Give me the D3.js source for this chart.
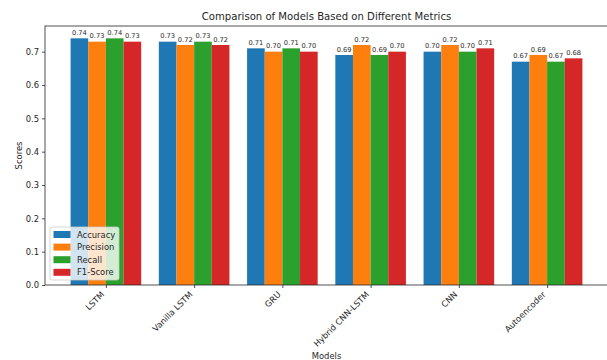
<!DOCTYPE html>
<html><head><meta charset="utf-8">
<script src="https://cdn.jsdelivr.net/npm/d3@7"></script>
<style>body{margin:0;background:#fff}svg{display:block;font-family:"DejaVu Sans",sans-serif}</style>
</head><body><svg id="c" width="607" height="360"></svg>
<script>
const models = ["LSTM","Vanilla LSTM","GRU","Hybrid CNN-LSTM","CNN","Autoencoder"];
const metrics = ["Accuracy","Precision","Recall","F1-Score"];
const accuracy  = [0.74,0.73,0.71,0.69,0.70,0.67];
const precision = [0.73,0.72,0.70,0.72,0.72,0.69];
const recall    = [0.74,0.73,0.71,0.69,0.70,0.67];
const f1score   = [0.73,0.72,0.70,0.70,0.71,0.68];
const yTicks = [0.0,0.1,0.2,0.3,0.4,0.5,0.6,0.7];
const colors = ["#1f77b4","#ff7f0e","#2ca02c","#d62728"];
const series = [accuracy,precision,recall,f1score];

const svg = d3.select("#c");
const L=45, R=608, T=26, B=285;
const barW=0.2;
const x = d3.scaleLinear().domain([-0.69, models.length-1+0.69]).range([L,R]);
const maxV = d3.max(series.flat());
const y = d3.scaleLinear().domain([0, maxV*1.05]).range([B,T]);
const txt = "#262626";

// bars
series.forEach((vals,si)=>{
  const off = (si-1.5)*barW;
  svg.append("g").selectAll("rect").data(vals).join("rect")
    .attr("x",(d,i)=>x(i+off-barW/2))
    .attr("y",d=>y(d))
    .attr("width",x(barW)-x(0))
    .attr("height",d=>y(0)-y(d))
    .attr("fill",colors[si]);
  svg.append("g").selectAll("text").data(vals).join("text")
    .attr("x",(d,i)=>x(i+off))
    .attr("y",d=>y(d)-3.5)
    .attr("text-anchor","middle")
    .attr("font-size",6.7).attr("fill",txt)
    .text(d=>d.toFixed(2));
});

// axes
const ya = svg.append("g").attr("transform",`translate(${L},0)`)
  .call(d3.axisLeft(y).tickValues(yTicks).tickFormat(d3.format(".1f")).tickSize(3).tickPadding(3));
const xa = svg.append("g").attr("transform",`translate(0,${B})`)
  .call(d3.axisBottom(x).tickValues(d3.range(models.length)).tickFormat(i=>models[i]).tickSize(3).tickPadding(2));
[ya,xa].forEach(a=>{a.select(".domain").remove();a.selectAll("line").attr("stroke",txt).attr("stroke-width",0.8);
  a.selectAll("text").attr("font-size",8.4).attr("fill",txt).attr("font-family","DejaVu Sans");});
xa.selectAll("text").attr("text-anchor","end").attr("dy",0)
  .attr("transform","translate(-1.5,10) rotate(-45)").attr("y",0);

svg.append("rect").attr("x",L).attr("y",T).attr("width",R-L).attr("height",B-T)
  .attr("fill","none").attr("stroke",txt).attr("stroke-width",0.8);

// titles
svg.append("text").attr("x",(L+R)/2).attr("y",20).attr("text-anchor","middle")
  .attr("font-size",10.1).attr("fill",txt).text("Comparison of Models Based on Different Metrics");
svg.append("text").attr("x",(L+R)/2).attr("y",359).attr("text-anchor","middle")
  .attr("font-size",8.4).attr("fill",txt).text("Models");
svg.append("text").attr("transform",`translate(22,${(T+B)/2}) rotate(-90)`).attr("text-anchor","middle")
  .attr("font-size",8.4).attr("fill",txt).text("Scores");

// legend
const lg = svg.append("g").attr("transform","translate(50,227)");
lg.append("rect").attr("width",69).attr("height",53).attr("rx",2)
  .attr("fill","#fff").attr("fill-opacity",0.8).attr("stroke","#cccccc").attr("stroke-width",0.8);
metrics.forEach((m,i)=>{
  const yy = 7.5 + i*12.6;
  lg.append("rect").attr("x",3.5).attr("y",yy-3.5).attr("width",17).attr("height",7).attr("fill",colors[i]);
  lg.append("text").attr("x",27).attr("y",yy+3).attr("font-size",8.4).attr("fill",txt).text(m);
});
</script></body></html>
